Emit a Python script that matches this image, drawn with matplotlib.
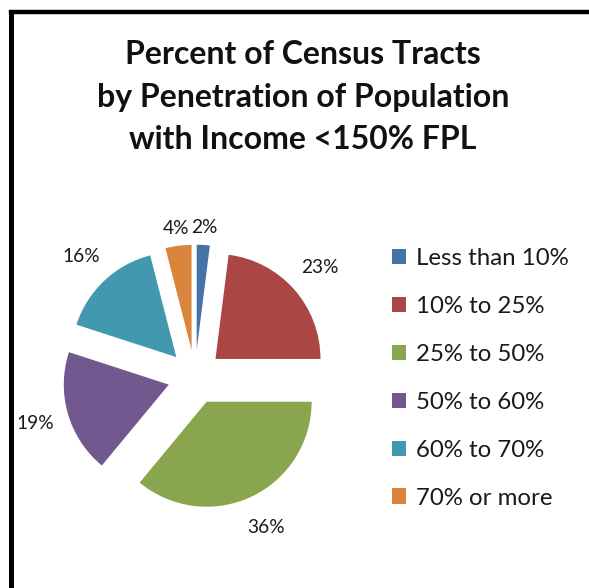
import matplotlib
matplotlib.use("Agg")
import matplotlib.pyplot as plt
from matplotlib.lines import Line2D

# Share of census tracts by penetration band
categories = ["Less than 10%", "10% to 25%", "25% to 50%",
              "50% to 60%", "60% to 70%", "70% or more"]
shares = [2, 23, 36, 19, 16, 4]
colors = ["#4572A7", "#AA4643", "#89A54E", "#71588F", "#4198AF", "#DB843D"]
title = "Percent of Census Tracts\nby Penetration of Population\nwith Income <150% FPL"

W, H = 589, 588
fig = plt.figure(figsize=(W / 100, H / 100), dpi=100)
plt.rcParams["font.family"] = ["Lato", "DejaVu Sans"]

# pie axes: centre (195, 377) px, radius 105 px
cx, cy, half = 195, 377, 170
ax = fig.add_axes([(cx - half) / W, (H - cy - half) / H, 2 * half / W, 2 * half / H])
lim = half / 105
ax.set_xlim(-lim, lim)
ax.set_ylim(-lim, lim)
ax.set_aspect("equal")
ax.axis("off")

wedges, texts, autotexts = ax.pie(
    shares, colors=colors, startangle=90, counterclock=False,
    explode=[0.26] * len(shares), radius=1.0, autopct="%d%%",
    pctdistance=1.32, wedgeprops=dict(linewidth=0),
    textprops=dict(fontsize=13.8, color="#1a1a1a"), frame=False)
ax.set_xlim(-lim, lim)
ax.set_ylim(-lim, lim)

# small top slices carry their labels a little closer in
for i in (0, 5):
    x, y = autotexts[i].get_position()
    autotexts[i].set_position((x * 0.9, y * 0.9))

fig.legend(wedges, categories, loc="upper left",
           bbox_to_anchor=(380 / W, 1 - 236 / H), frameon=False,
           fontsize=17.3, handlelength=0.6, handleheight=0.6,
           handletextpad=0.4, labelspacing=1.12, borderpad=0,
           labelcolor="#1a1a1a")

fig.text(303 / W, 1 - 97 / H, title, ha="center", va="center",
         fontsize=23, fontweight="bold", linespacing=1.55, color="#111111")

# outer frame (left and top rules)
fig.add_artist(Line2D([11 / W, 11 / W], [0, 1 - 11.5 / H], color="black",
                      linewidth=3.6, transform=fig.transFigure,
                      solid_capstyle="projecting"))
fig.add_artist(Line2D([11 / W, 1], [1 - 11.5 / H, 1 - 11.5 / H], color="black",
                      linewidth=3.2, transform=fig.transFigure))

fig.savefig("out.png", dpi=100)
